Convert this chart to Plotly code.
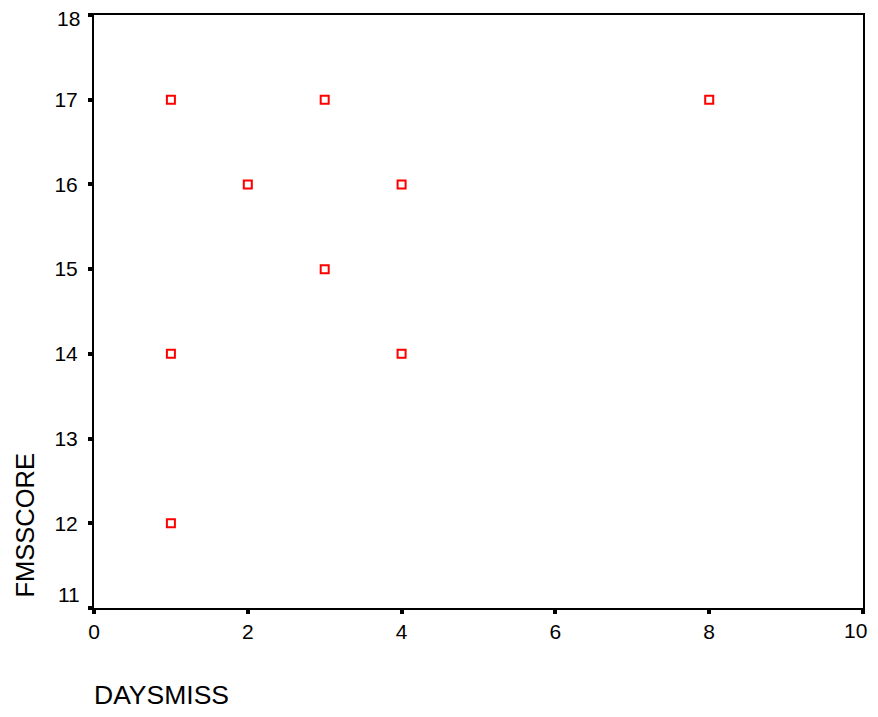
import plotly.graph_objects as go

days_miss = [1, 3, 8, 2, 4, 3, 1, 4, 1]
fms_score = [17, 17, 17, 16, 16, 15, 14, 14, 12]
x_ticks = [0, 2, 4, 6, 8, 10]
x_tick_labels = ["0", "2", "4", "6", "8", "10"]
y_ticks = [11, 12, 13, 14, 15, 16, 17, 18]
y_tick_labels = ["11", "12", "13", "14", "15", "16", "17", "18"]

FONT = "Liberation Sans, Arial, sans-serif"

fig = go.Figure()
fig.add_trace(go.Scatter(
    x=days_miss, y=fms_score, mode="markers",
    marker=dict(symbol="square-open", size=8, color="#ff0000", line=dict(width=2, color="#ff0000")),
    showlegend=False, cliponaxis=False,
))

axis_common = dict(
    showgrid=False, zeroline=False, showline=True, linecolor="black", linewidth=2,
    mirror=True, ticks="outside", ticklen=4, tickwidth=4, tickcolor="black",
    tickfont=dict(family=FONT, size=21, color="black"),
    ticklabeloverflow="allow", automargin=False,
)

# end labels are placed as annotations (offset like the original, kept inside the page)
y_inner = [t if v not in (y_ticks[0], y_ticks[-1]) else "" for v, t in zip(y_ticks, y_tick_labels)]
x_inner = [t if v != x_ticks[-1] else "" for v, t in zip(x_ticks, x_tick_labels)]

tick_font = dict(family=FONT, size=21, color="black")
annotations = [
    dict(text="DAYSMISS", xref="paper", yref="paper", x=0, y=0, xanchor="left",
         yanchor="middle", yshift=-87, xshift=-2, showarrow=False,
         font=dict(family=FONT, size=26.5, color="black")),
    dict(text="FMSSCORE", xref="paper", yref="paper", x=0, y=0, xanchor="center",
         yanchor="bottom", xshift=-70, yshift=8, textangle=-90, showarrow=False,
         font=dict(family=FONT, size=25.5, color="black")),
    dict(text=y_tick_labels[0], xref="paper", yref="y", x=0, y=y_ticks[0], xanchor="right",
         yanchor="middle", xshift=-12, yshift=14, showarrow=False, font=tick_font),
    dict(text=y_tick_labels[-1], xref="paper", yref="y", x=0, y=y_ticks[-1], xanchor="right",
         yanchor="middle", xshift=-12, yshift=-3, showarrow=False, font=tick_font),
    dict(text=x_tick_labels[-1], xref="x", yref="paper", x=x_ticks[-1], y=0, xanchor="right",
         yanchor="middle", xshift=6, yshift=-22, showarrow=False, font=tick_font),
]

fig.update_layout(
    width=862, height=701,
    margin=dict(l=86, r=7, t=7, b=101),
    paper_bgcolor="white", plot_bgcolor="white",
    xaxis=dict(range=[0, 10], tickvals=x_ticks, ticktext=x_inner, ticklabelstandoff=0, **axis_common),
    yaxis=dict(range=[11, 18], tickvals=y_ticks, ticktext=y_inner, ticklabelstandoff=6, **axis_common),
    annotations=annotations,
)

fig.write_html("out.html")
